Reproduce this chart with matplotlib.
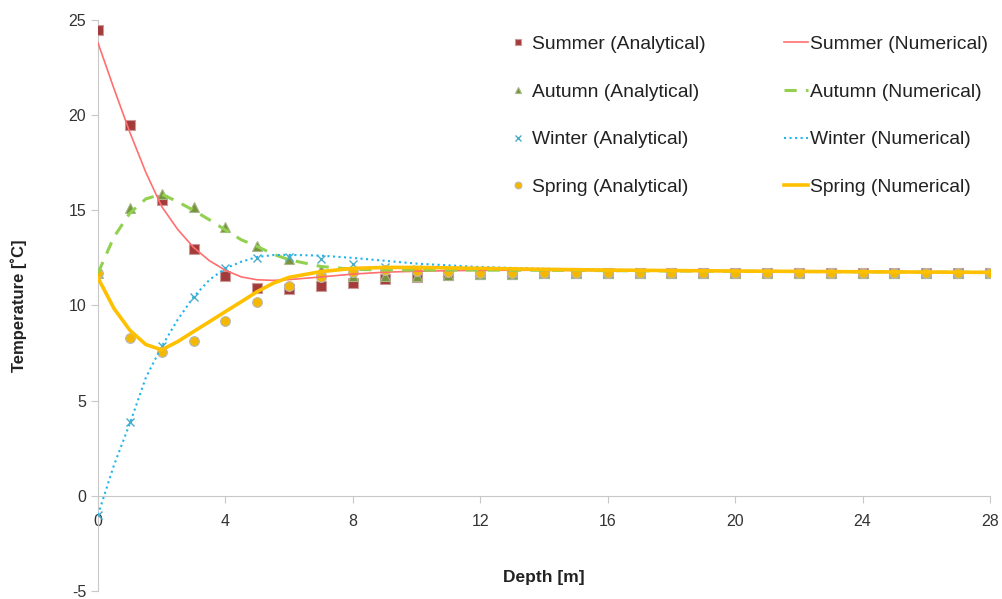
import numpy as np
import matplotlib
matplotlib.use('Agg')
import matplotlib.pyplot as plt

plt.rcParams['font.family'] = ['Liberation Sans', 'DejaVu Sans']
plt.rcParams['axes.unicode_minus'] = False

# analytical solution, one point per metre
depth_a = list(range(0, 29))
summer_a = [24.5, 19.5, 15.55, 12.95, 11.55, 10.9, 10.85, 11.0, 11.2, 11.38, 11.5, 11.6, 11.65, 11.68,
            11.7, 11.7, 11.7, 11.7, 11.7, 11.7, 11.7, 11.7, 11.7, 11.7, 11.7, 11.7, 11.7, 11.7, 11.7]
autumn_a = [11.7, 15.1, 15.85, 15.2, 14.1, 13.15, 12.45, 11.85, 11.55, 11.55, 11.55, 11.6, 11.65, 11.68,
            11.7, 11.7, 11.7, 11.7, 11.7, 11.7, 11.7, 11.7, 11.7, 11.7, 11.7, 11.7, 11.7, 11.7, 11.7]
winter_a = [-1.0, 3.9, 7.85, 10.45, 11.95, 12.5, 12.55, 12.45, 12.2, 12.0, 11.9, 11.8, 11.75, 11.72,
            11.7, 11.7, 11.7, 11.7, 11.7, 11.7, 11.7, 11.7, 11.7, 11.7, 11.7, 11.7, 11.7, 11.7, 11.7]
spring_a = [11.7, 8.3, 7.58, 8.15, 9.2, 10.2, 11.0, 11.48, 11.75, 11.87, 11.83, 11.78, 11.72, 11.7,
            11.7, 11.7, 11.7, 11.7, 11.7, 11.7, 11.7, 11.7, 11.7, 11.7, 11.7, 11.7, 11.7, 11.7, 11.7]

# numerical solution
depth_n = [0, 0.5, 1, 1.5, 2, 2.5, 3, 3.5, 4, 4.5, 5, 5.5, 6, 7, 8, 9, 10, 12, 14, 16, 20, 24, 28]
summer_n = [23.8, 21.4, 19.1, 17.0, 15.2, 14.0, 13.05, 12.35, 11.85, 11.5, 11.35, 11.32, 11.36, 11.5,
            11.65, 11.75, 11.8, 11.85, 11.85, 11.83, 11.8, 11.77, 11.74]
autumn_n = [11.7, 13.6, 14.85, 15.6, 15.85, 15.45, 15.0, 14.5, 13.97, 13.45, 13.1, 12.7, 12.4, 12.05,
            11.9, 11.87, 11.86, 11.86, 11.85, 11.83, 11.8, 11.77, 11.74]
winter_n = [-1.0, 1.6, 3.8, 6.2, 7.85, 9.25, 10.45, 11.35, 11.95, 12.3, 12.55, 12.65, 12.66, 12.62,
            12.5, 12.35, 12.2, 12.02, 11.93, 11.88, 11.82, 11.78, 11.74]
spring_n = [11.45, 9.85, 8.7, 7.95, 7.67, 8.1, 8.63, 9.15, 9.68, 10.2, 10.73, 11.17, 11.48, 11.78,
            11.95, 12.0, 12.0, 11.95, 11.9, 11.86, 11.81, 11.77, 11.74]

fig = plt.figure(figsize=(10.03, 5.99), dpi=100)
ax = fig.add_axes([0.0977, 0.0134, 0.8893, 0.9532])

# analytical markers
h1, = ax.plot(depth_a, summer_a, 's', color='#A33B3A', mec='#C99A99', mew=0.8, ms=7,
              label='Summer (Analytical)', zorder=3)
h2, = ax.plot(depth_a, autumn_a, '^', color='#77933C', mec='#A6B889', mew=0.8, ms=7,
              label='Autumn (Analytical)', zorder=3)
h3, = ax.plot(depth_a, winter_a, 'x', color='#4BACC6', mew=1.0, ms=6,
              label='Winter (Analytical)', zorder=3)
h4, = ax.plot(depth_a, spring_a, 'o', color='#F5B800', mec='#B8B8B8', mew=0.8, ms=7,
              label='Spring (Analytical)', zorder=3)

# numerical lines
h5, = ax.plot(depth_n, summer_n, '-', color='#FF6F6F', lw=1.2, label='Summer (Numerical)', zorder=4)
h6, = ax.plot(depth_n, autumn_n, '--', color='#92D050', lw=2.2, dashes=(4, 3),
              label='Autumn (Numerical)', zorder=4)
h7, = ax.plot(depth_n, winter_n, ':', color='#1FB4EE', lw=1.5, label='Winter (Numerical)', zorder=4)
h8, = ax.plot(depth_n, spring_n, '-', color='#FFC000', lw=2.6, label='Spring (Numerical)', zorder=4)

ax.set_xlim(0, 28)
ax.set_ylim(-5, 25)
ax.set_xticks(range(0, 29, 4))
ax.set_yticks(range(-5, 26, 5))

for s in ['top', 'right']:
    ax.spines[s].set_visible(False)
ax.spines['bottom'].set_position(('data', 0))
ax.spines['bottom'].set_color('#C8C8C8')
ax.spines['left'].set_color('#C8C8C8')
ax.tick_params(axis='both', colors='#C8C8C8', labelcolor='#333333', labelsize=11.5, length=5)
ax.tick_params(axis='x', direction='out', pad=8)

ax.set_xlabel('Depth [m]', fontsize=12.5, fontweight='bold', color='#222222')
ax.xaxis.label.set_verticalalignment('top')
ax.xaxis.set_label_coords(0.5, 0.037)
ax.set_ylabel('Temperature [˚C]', fontsize=12, fontweight='bold', color='#222222')
ax.yaxis.set_label_coords(-0.08, 0.5)

ax.legend(handles=[h1, h2, h3, h4, h5, h6, h7, h8], ncol=2, frameon=False, fontsize=13.9,
          loc='upper left', bbox_to_anchor=(0.438, 1.003), handlelength=1.25, handletextpad=0.1,
          columnspacing=4.05, labelspacing=1.56, markerscale=0.7, labelcolor='#222222')

fig.savefig('out.png', dpi=100)
